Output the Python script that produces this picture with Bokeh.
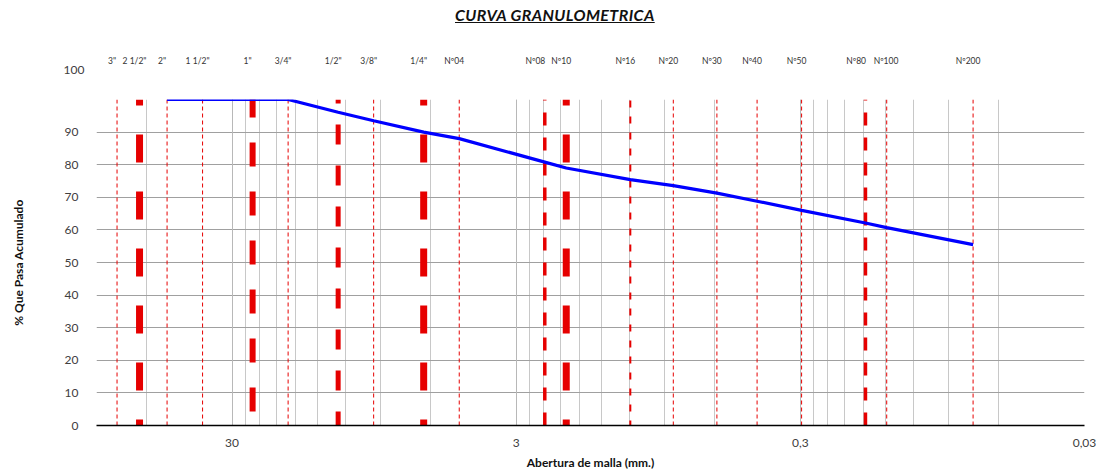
from bokeh.plotting import figure
from bokeh.models import (FixedTicker, Range1d, Grid, LogAxis, LogScale, Title, Div)
from bokeh.layouts import column
from bokeh.embed import file_html
from bokeh.resources import INLINE

# ---- data ----
sieve_names = ['3"', '2 1/2"', '2"', '1 1/2"', '1"', '3/4"', '1/2"', '3/8"', '1/4"', 'Nº04',
               'Nº08', 'Nº10', 'Nº16', 'Nº20', 'Nº30', 'Nº40', 'Nº50', 'Nº80', 'Nº100', 'Nº200']
sieve_mm = [76.2, 63.5, 50.8, 38.1, 25.4, 19.05, 12.7, 9.525, 6.35, 4.76,
            2.38, 2.0, 1.19, 0.84, 0.59, 0.426, 0.297, 0.177, 0.149, 0.074]
curve_mm = [50.8, 38.1, 25.4, 19.05, 12.7, 9.525, 6.35, 4.76, 2.38, 2.0,
            1.19, 0.84, 0.59, 0.426, 0.297, 0.177, 0.149, 0.074]
curve_pass = [100, 100, 100, 100, 96.1, 93.5, 90.0, 88.0, 80.8, 79.0,
              75.4, 73.6, 71.3, 68.8, 66.0, 62.1, 60.7, 55.5]
x_ticks = [30, 3, 0.3, 0.03]
x_tick_labels = ["30", "3", "0,3", "0,03"]
y_ticks = [0, 10, 20, 30, 40, 50, 60, 70, 80, 90]
y_top_label = "100"
title_text = "CURVA GRANULOMETRICA"

# ---- styles ----
FONT = "Lato"
RED = "#e60000"
line_styles = [
    (['3"', '2"', '1 1/2"', '3/4"', '3/8"', 'Nº04', 'Nº20', 'Nº30', 'Nº40', 'Nº50', 'Nº100', 'Nº200'], 1, "4 3", 0),
    (['2 1/2"', '1/4"', 'Nº10'], 7, "28 29", 22),
    (['1"'], 6, "24 25", 35),
    (['1/2"'], 5, "20 21", 6),
    (['Nº08', 'Nº80'], 3.5, "13 12", 0),
    (['Nº16'], 2, "7 9", 2),
]
# small horizontal nudges of a few sieve names (non-breaking spaces before / after)
NB = "\u00a0"
label_pad = {'Nº08': (0, 4), 'Nº80': (0, 4), 'Nº100': (4, 0)}

# minor grid positions of the log axis (3, 6, 9, ... in each decade)
grid_x = [m * 3 * 10.0 ** k for k in range(-2, 2) for m in range(1, 10)]
grid_x = [g for g in grid_x if 0.03 <= g < 89]

X_MAX, X_MIN = 90, 0.03
p = figure(width=1100, height=441, x_axis_type="log",
           x_range=Range1d(X_MAX, X_MIN), y_range=Range1d(0, 100),
           output_backend="svg", toolbar_location=None,
           min_border_left=96, min_border_right=16, min_border_top=67, min_border_bottom=48)
p.outline_line_color = None

# grids
p.xgrid.ticker = FixedTicker(ticks=grid_x)
p.xgrid.grid_line_color = "#c8c8c8"
p.add_layout(Grid(dimension=0, ticker=FixedTicker(ticks=x_ticks), grid_line_color="#b8b8b8"))
p.ygrid.ticker = FixedTicker(ticks=y_ticks + [100])
p.ygrid.grid_line_color = "#a0a0a0"

# bottom axis
xa = p.xaxis[0]
xa.ticker = FixedTicker(ticks=x_ticks)
xa.major_label_overrides = {t: l for t, l in zip(x_ticks, x_tick_labels)}
xa.axis_line_color = "black"
xa.axis_line_width = 1.3
xa.major_tick_line_color = None
xa.minor_tick_line_color = None
xa.major_label_standoff = 7
xa.major_label_text_font = FONT
xa.major_label_text_font_size = "12px"
xa.major_label_text_color = "#404040"
xa.axis_label = "Abertura de malla (mm.)"
xa.axis_label_text_font = FONT
xa.axis_label_text_font_size = "12px"
xa.axis_label_text_font_style = "bold"
xa.axis_label_text_color = "#111111"
xa.axis_label_standoff = 5

# left axis
ya = p.yaxis[0]
ya.ticker = FixedTicker(ticks=y_ticks)
ya.axis_line_color = None
ya.major_tick_line_color = None
ya.minor_tick_line_color = None
ya.major_label_standoff = 12
ya.major_label_text_font = FONT
ya.major_label_text_font_size = "12px"
ya.major_label_text_color = "#404040"
ya.axis_label = "% Que Pasa Acumulado"
ya.axis_label_text_font = FONT
ya.axis_label_text_font_size = "12px"
ya.axis_label_text_font_style = "bold"
ya.axis_label_text_color = "#111111"
ya.axis_label_standoff = 36

# "100" label above the top grid line (nearest panel above the frame)
p.add_layout(Title(text=y_top_label, align="left", offset=-33, standoff=52,
                   text_font=FONT, text_font_size="12px", text_font_style="normal",
                   text_color="#404040"), "above")

# sieve names on a top axis (scale nudged a few pixels to the left like the reference)
nudge = 10 ** (-5 / 284.0)
p.extra_x_ranges = {"sieves": Range1d(X_MAX * nudge, X_MIN * nudge)}
p.extra_x_scales = {"sieves": LogScale()}
shown = [NB * label_pad.get(n, (0, 0))[0] + n + NB * label_pad.get(n, (0, 0))[1] for n in sieve_names]
ta = LogAxis(x_range_name="sieves", ticker=FixedTicker(ticks=sieve_mm),
             major_label_overrides={m: n for m, n in zip(sieve_mm, shown)})
ta.axis_line_color = None
ta.major_tick_line_color = None
ta.minor_tick_line_color = None
ta.major_label_standoff = -34
ta.major_label_text_font = FONT
ta.major_label_text_font_size = "8.5px"
ta.major_label_text_color = "#333333"
p.add_layout(ta, "above")

# sieve lines
for names, w, dash, off in line_styles:
    xs = [sieve_mm[sieve_names.index(n)] for n in names]
    p.segment(x0=xs, y0=[0] * len(xs), x1=xs, y1=[100] * len(xs),
              line_color=RED, line_width=w, line_dash=dash, line_dash_offset=off)

# curve
p.line(curve_mm, curve_pass, line_color="#0000ff", line_width=3.2)

title = Div(text=('<div style="margin-left:455px; margin-top:4px; font-family:Lato; font-size:16px;'
                  ' font-weight:bold; font-style:italic; text-decoration:underline; color:#111;'
                  ' letter-spacing:0.4px; white-space:nowrap;">' + title_text + '</div>'),
            width=1100, height=32, margin=(0, 0, 0, 0))

layout = column(title, p, spacing=0)
open("out.html", "w").write(file_html(layout, INLINE))
